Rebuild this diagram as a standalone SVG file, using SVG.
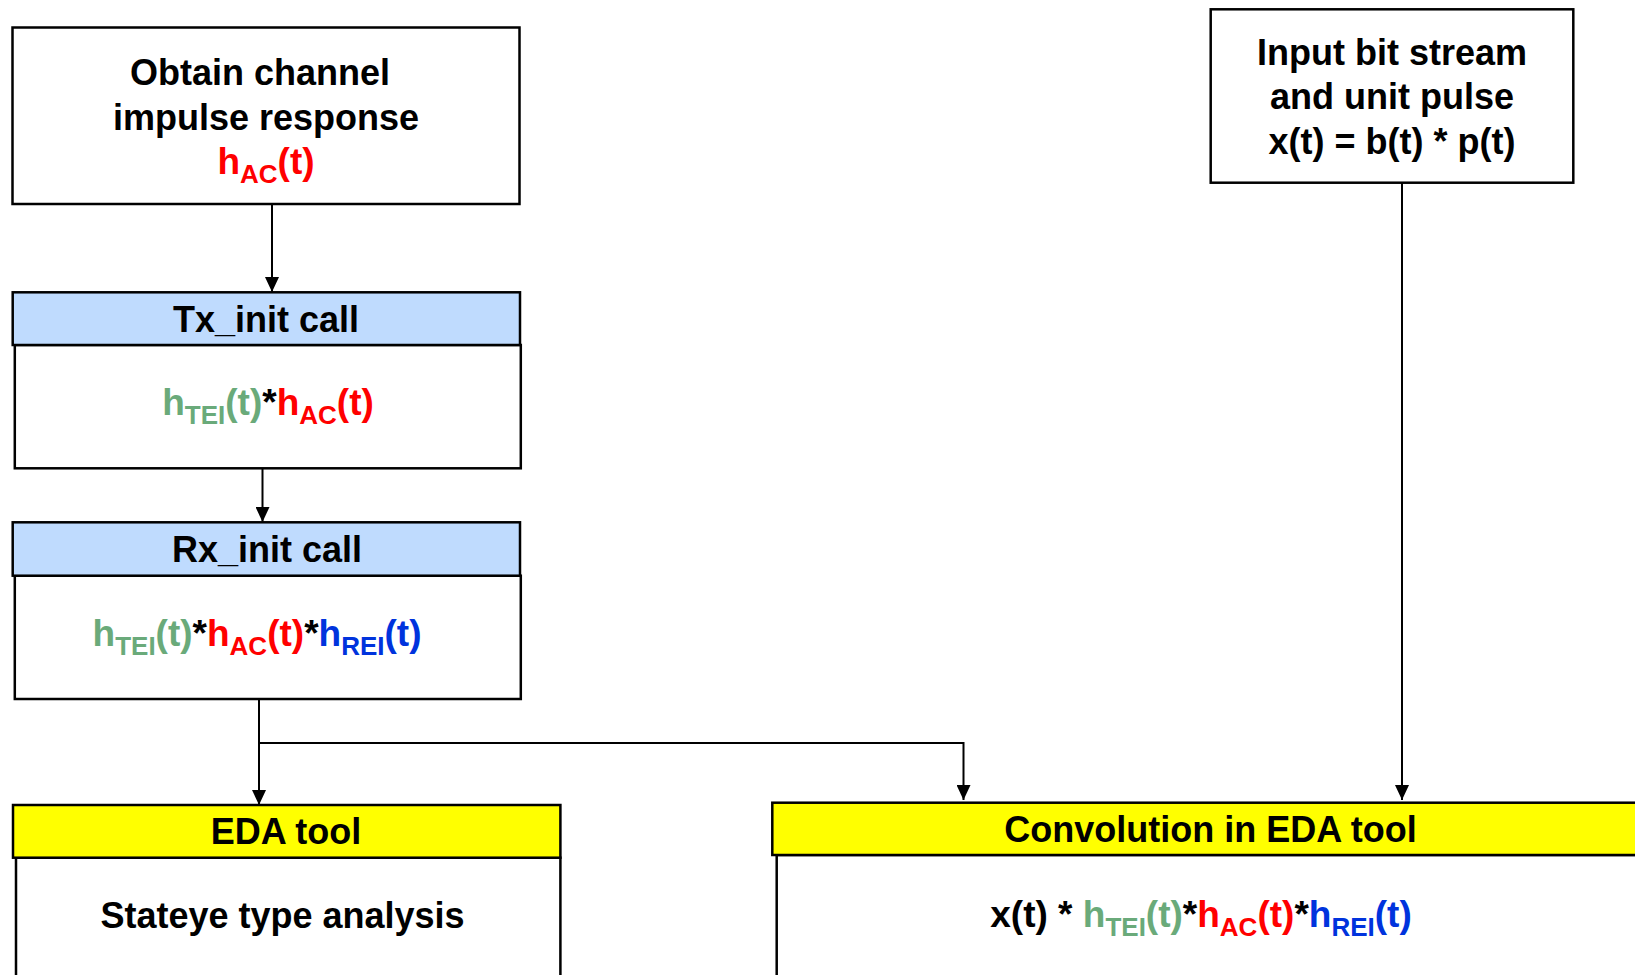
<svg xmlns="http://www.w3.org/2000/svg" width="1635" height="975" viewBox="0 0 1635 975">
<defs>
<style>
.box{fill:#fff;stroke:#000;stroke-width:2.5}
.hdrB{fill:#BFDBFE;stroke:#000;stroke-width:2.5}
.hdrY{fill:#FFFF00;stroke:#000;stroke-width:2.5}
.t{font-family:"Liberation Sans",Arial,sans-serif;font-weight:bold;font-size:36px;fill:#000;text-anchor:middle}
.f{font-size:37px}
.s{font-size:26px}
.g{fill:#6AAA7A}
.r{fill:#FF0000}
.b{fill:#0033DD}
.k{fill:#000}
.ln{fill:none;stroke:#000;stroke-width:2}
</style>
<marker id="ah" viewBox="0 0 15 14" refX="15" refY="7" markerWidth="15" markerHeight="14" markerUnits="userSpaceOnUse" orient="auto">
<path d="M0,0 L15,7 L0,14 z" fill="#000"/>
</marker>
</defs>
<rect width="1635" height="975" fill="#fff"/>

<g id="connectors">
<path class="ln" d="M272,204 V292" marker-end="url(#ah)"/>
<path class="ln" d="M262.5,468 V522" marker-end="url(#ah)"/>
<path class="ln" d="M259,699 V805" marker-end="url(#ah)"/>
<path class="ln" d="M259,743 H963.5 V800" marker-end="url(#ah)"/>
<path class="ln" d="M1402,183 V800" marker-end="url(#ah)"/>
</g>

<g id="obtain">
<rect class="box" x="12.5" y="27.5" width="507" height="176.5"/>
<text class="t" x="260" y="85">Obtain channel</text>
<text class="t" x="266" y="130">impulse response</text>
<text class="t f r" x="266" y="174">h<tspan class="s" dy="9">AC</tspan><tspan dy="-9">(t)</tspan></text>
</g>

<g id="input">
<rect class="box" x="1210.7" y="9.3" width="362.6" height="173.4"/>
<text class="t" x="1392" y="64.5">Input bit stream</text>
<text class="t" x="1392" y="109">and unit pulse</text>
<text class="t" x="1392" y="154">x(t) = b(t) * p(t)</text>
</g>

<g id="tx">
<rect class="box" x="14.8" y="345" width="506" height="123.3"/>
<rect class="hdrB" x="12.7" y="292.3" width="507.3" height="52.7"/>
<text class="t" x="266" y="331.5">Tx_init call</text>
<text class="t f" x="268" y="415"><tspan class="g">h</tspan><tspan class="g s" dy="9">TEI</tspan><tspan class="g" dy="-9">(t)</tspan><tspan class="k">*</tspan><tspan class="r">h</tspan><tspan class="r s" dy="9">AC</tspan><tspan class="r" dy="-9">(t)</tspan></text>
</g>

<g id="rx">
<rect class="box" x="14.8" y="575.7" width="506" height="123.3"/>
<rect class="hdrB" x="12.7" y="522.3" width="507.3" height="53.4"/>
<text class="t" x="267" y="562">Rx_init call</text>
<text class="t f" x="257" y="645.5"><tspan class="g">h</tspan><tspan class="g s" dy="9">TEI</tspan><tspan class="g" dy="-9">(t)</tspan><tspan class="k">*</tspan><tspan class="r">h</tspan><tspan class="r s" dy="9">AC</tspan><tspan class="r" dy="-9">(t)</tspan><tspan class="k">*</tspan><tspan class="b">h</tspan><tspan class="b s" dy="9">REI</tspan><tspan class="b" dy="-9">(t)</tspan></text>
</g>

<g id="eda">
<rect class="box" x="16" y="857.7" width="544.4" height="200"/>
<rect class="hdrY" x="13" y="805" width="547.4" height="52.7"/>
<text class="t" x="286" y="844">EDA tool</text>
<text class="t" x="282.5" y="927.5">Stateye type analysis</text>
</g>

<g id="conv">
<rect class="box" x="776.7" y="855" width="900" height="200"/>
<rect class="hdrY" x="772.3" y="802.7" width="900" height="52.3"/>
<text class="t" x="1210.5" y="841.5">Convolution in EDA tool</text>
<text class="t f" x="1201" y="926.5">x(t) * <tspan class="g">h</tspan><tspan class="g s" dy="9">TEI</tspan><tspan class="g" dy="-9">(t)</tspan><tspan class="k">*</tspan><tspan class="r">h</tspan><tspan class="r s" dy="9">AC</tspan><tspan class="r" dy="-9">(t)</tspan><tspan class="k">*</tspan><tspan class="b">h</tspan><tspan class="b s" dy="9">REI</tspan><tspan class="b" dy="-9">(t)</tspan></text>
</g>
</svg>
